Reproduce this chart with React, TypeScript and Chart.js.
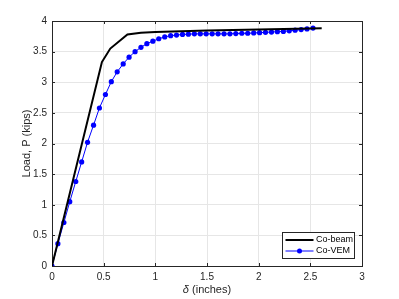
import React, { useEffect, useRef } from 'react';
import { Chart, registerables } from 'chart.js';

Chart.register(...registerables);

// Co-beam series (deflection in inches, load in kips)
const beamDelta = [0, 0.483, 0.564, 0.73, 0.86, 1.0, 1.5, 2.0, 2.61];
const beamLoad = [0, 3.33, 3.55, 3.78, 3.81, 3.82, 3.845, 3.86, 3.88];

// Co-VEM series
const vemDelta = [
  0, 0.057, 0.115, 0.172, 0.23, 0.287, 0.344, 0.402, 0.459, 0.517,
  0.574, 0.631, 0.689, 0.746, 0.804, 0.861, 0.918, 0.976, 1.033, 1.091,
  1.148, 1.205, 1.263, 1.32, 1.378, 1.435, 1.492, 1.55, 1.607, 1.665,
  1.722, 1.779, 1.837, 1.894, 1.952, 2.009, 2.066, 2.124, 2.181, 2.239,
  2.296, 2.353, 2.411, 2.468, 2.526,
];
const vemLoad = [
  0, 0.365, 0.71, 1.05, 1.38, 1.7, 2.02, 2.3, 2.58, 2.8,
  3.01, 3.17, 3.3, 3.41, 3.5, 3.57, 3.63, 3.67, 3.71, 3.74,
  3.76, 3.77, 3.78, 3.785, 3.79, 3.79, 3.79, 3.79, 3.79, 3.79,
  3.79, 3.795, 3.8, 3.8, 3.805, 3.81, 3.815, 3.82, 3.825, 3.83,
  3.84, 3.85, 3.86, 3.87, 3.885,
];

const xTicks = [0, 0.5, 1, 1.5, 2, 2.5, 3];
const yTicks = [0, 0.5, 1, 1.5, 2, 2.5, 3, 3.5, 4];
const seriesNames = ['Co-beam', 'Co-VEM'];
const seriesColors = ['#000000', '#0000ff'];
const xTitleSymbol = 'δ';
const xTitleRest = ' (inches)';
const yTitle = 'Load, P (kips)';

const FONT = '"Liberation Sans", Arial, sans-serif';
const AXIS_COLOR = '#262626';

const decorPlugin = {
  id: 'decor',
  beforeDatasetsDraw(chart: any) {
    const { ctx, chartArea: a, scales } = chart;
    ctx.save();
    ctx.strokeStyle = AXIS_COLOR;
    ctx.lineWidth = 1;
    // box
    ctx.strokeRect(Math.round(a.left) + 0.5, Math.round(a.top) + 0.5,
      Math.round(a.right) - Math.round(a.left), Math.round(a.bottom) - Math.round(a.top));
    // inward ticks
    const tl = 3;
    ctx.beginPath();
    xTicks.forEach((v) => {
      const x = Math.round(scales.x.getPixelForValue(v)) + 0.5;
      ctx.moveTo(x, a.bottom); ctx.lineTo(x, a.bottom - tl);
      ctx.moveTo(x, a.top); ctx.lineTo(x, a.top + tl);
    });
    yTicks.forEach((v) => {
      const y = Math.round(scales.y.getPixelForValue(v)) + 0.5;
      ctx.moveTo(a.left, y); ctx.lineTo(a.left + tl, y);
      ctx.moveTo(a.right, y); ctx.lineTo(a.right - tl, y);
    });
    ctx.stroke();
    ctx.restore();
  },
  afterDraw(chart: any) {
    const { ctx, chartArea: a } = chart;
    ctx.save();
    // axis titles
    ctx.fillStyle = AXIS_COLOR;
    ctx.textBaseline = 'middle';
    const cx = (a.left + a.right) / 2;
    ctx.font = `italic 11px ${FONT}`;
    const w1 = ctx.measureText(xTitleSymbol).width;
    ctx.font = `11px ${FONT}`;
    const w2 = ctx.measureText(xTitleRest).width;
    const startX = cx - (w1 + w2) / 2;
    ctx.textAlign = 'left';
    ctx.font = `italic 11px ${FONT}`;
    ctx.fillText(xTitleSymbol, startX, 290);
    ctx.font = `11px ${FONT}`;
    ctx.fillText(xTitleRest, startX + w1, 290);

    ctx.save();
    ctx.translate(27, (a.top + a.bottom) / 2);
    ctx.rotate(-Math.PI / 2);
    ctx.textAlign = 'center';
    ctx.fillText(yTitle, 0, 0);
    ctx.restore();

    // legend
    const lw = 72, lh = 26;
    const lx = Math.round(a.right - 8 - lw) + 0.5;
    const ly = Math.round(a.bottom - 8 - lh) + 0.5;
    ctx.fillStyle = '#ffffff';
    ctx.fillRect(lx, ly, lw, lh);
    ctx.strokeStyle = '#262626';
    ctx.lineWidth = 1;
    ctx.strokeRect(lx, ly, lw, lh);
    ctx.font = `9px ${FONT}`;
    ctx.textAlign = 'left';
    ctx.textBaseline = 'middle';
    seriesNames.forEach((name, i) => {
      const y = ly + 7.5 + i * 11;
      ctx.strokeStyle = seriesColors[i];
      ctx.lineWidth = i === 0 ? 2 : 1;
      ctx.beginPath();
      ctx.moveTo(lx + 3, y);
      ctx.lineTo(lx + 31, y);
      ctx.stroke();
      if (i === 1) {
        ctx.fillStyle = seriesColors[i];
        ctx.beginPath();
        ctx.arc(lx + 17, y, 2.5, 0, Math.PI * 2);
        ctx.fill();
      }
      ctx.fillStyle = '#000000';
      ctx.fillText(name, lx + 33.5, y);
    });
    ctx.restore();
  },
};

const fmt = (v: any) => String(Number(v));

export default function App() {
  const ref = useRef<HTMLCanvasElement | null>(null);
  useEffect(() => {
    if (!ref.current) return;
    const chart = new Chart(ref.current, {
      type: 'line',
      data: {
        datasets: [
          {
            label: seriesNames[0],
            data: beamDelta.map((x, i) => ({ x, y: beamLoad[i] })),
            borderColor: seriesColors[0],
            backgroundColor: seriesColors[0],
            borderWidth: 2,
            pointRadius: 0,
            tension: 0,
          },
          {
            label: seriesNames[1],
            data: vemDelta.map((x, i) => ({ x, y: vemLoad[i] })),
            borderColor: seriesColors[1],
            backgroundColor: seriesColors[1],
            borderWidth: 1,
            pointRadius: 2.6,
            pointBorderWidth: 0,
            pointBackgroundColor: seriesColors[1],
            tension: 0,
          },
        ],
      },
      options: {
        responsive: false,
        animation: false,
        devicePixelRatio: 1,
        layout: { padding: { left: 0, top: 21, right: 37, bottom: 0 } },
        plugins: { legend: { display: false }, tooltip: { enabled: false } },
        scales: {
          x: {
            type: 'linear',
            min: 0,
            max: 3,
            afterFit: (s: any) => { s.height = 33; },
            afterBuildTicks: (s: any) => { s.ticks = xTicks.map((v) => ({ value: v })); },
            grid: { color: '#e6e6e6', drawTicks: false },
            border: { display: false },
            ticks: { color: AXIS_COLOR, font: { family: FONT, size: 10 }, padding: 5, maxRotation: 0, callback: fmt },
          },
          y: {
            type: 'linear',
            min: 0,
            max: 4,
            afterFit: (s: any) => { s.width = 52; },
            afterBuildTicks: (s: any) => { s.ticks = yTicks.map((v) => ({ value: v })); },
            grid: { color: '#e6e6e6', drawTicks: false },
            border: { display: false },
            ticks: { color: AXIS_COLOR, font: { family: FONT, size: 10 }, padding: 5, callback: fmt },
          },
        },
      },
      plugins: [decorPlugin],
    });
    return () => chart.destroy();
  }, []);
  return (
    <div style={{ position: 'fixed', left: 0, top: 0, width: 399, height: 299, background: '#fff' }}>
      <canvas ref={ref} width={399} height={299} style={{ width: 399, height: 299 }} />
    </div>
  );
}
